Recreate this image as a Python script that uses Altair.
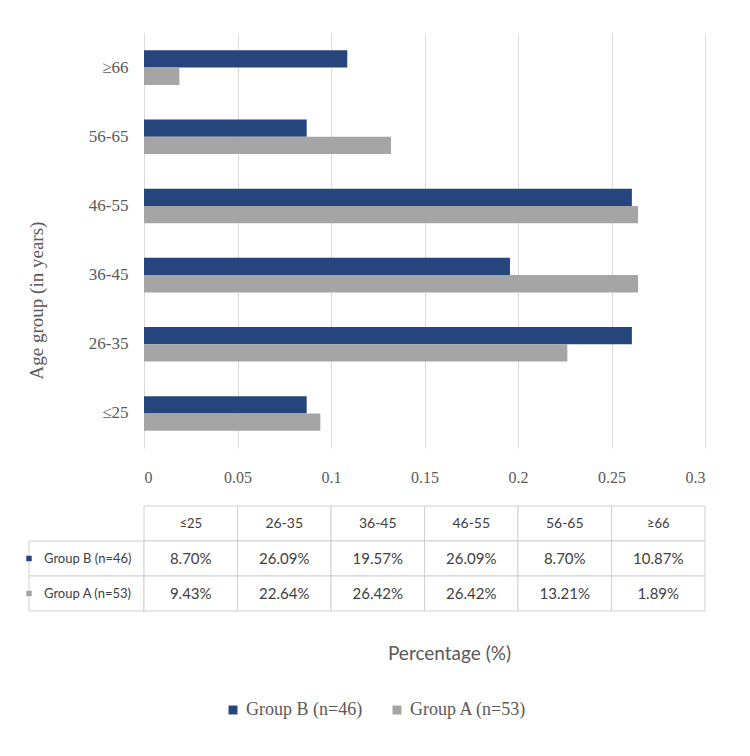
import altair as alt
import pandas as pd

ages = ["≤25", "26-35", "36-45", "46-55", "56-65", "≥66"]
groups = ["Group B (n=46)", "Group A (n=53)"]
group_b = [8.70, 26.09, 19.57, 26.09, 8.70, 10.87]
group_a = [9.43, 22.64, 26.42, 26.42, 13.21, 1.89]
x_ticks = [0, 0.05, 0.1, 0.15, 0.2, 0.25, 0.3]
colors = ["#26457c", "#a5a5a5"]

SERIF = "Liberation Serif"
SANS = "Lato"
GRAY_TXT = "#595959"
GRID = "#d9d9d9"

rows = []
for g, vals in zip(groups, [group_b, group_a]):
    for a, v in zip(ages, vals):
        rows.append({"age": a, "group": g, "pct": v, "share": v / 100})
df = pd.DataFrame(rows)

y_order = ages[::-1]
color_scale = alt.Scale(domain=groups, range=colors)
x_scale = alt.Scale(domain=[0, 0.3], nice=False)

bars = alt.Chart(df).mark_bar().encode(
    x=alt.X("share:Q", scale=x_scale,
            axis=alt.Axis(values=x_ticks, title=None, grid=True, gridColor=GRID,
                          domain=False, ticks=False, labelFont=SERIF, labelFontSize=16,
                          labelColor=GRAY_TXT, labelPadding=21, format="~g")),
    y=alt.Y("age:N", sort=y_order,
            scale=alt.Scale(paddingInner=0.5, paddingOuter=0.25),
            axis=alt.Axis(title="Age group (in years)", titleFont=SERIF, titleFontSize=19,
                          titleFontWeight="normal", titleColor=GRAY_TXT, titleX=-98, titleY=267,
                          labelFont=SERIF, labelFontSize=17, labelColor=GRAY_TXT,
                          labelPadding=16, ticks=False, domain=True, domainColor=GRID)),
    yOffset=alt.YOffset("group:N", sort=groups, scale=alt.Scale(paddingInner=0, paddingOuter=0)),
    color=alt.Color("group:N", sort=groups, scale=color_scale,
                    legend=alt.Legend(title=None, orient="none", direction="horizontal",
                                      legendX=80, legendY=668)),
).properties(width=561, height=415)

# table cells
label_left = -0.0615
cells = []
for k, a in enumerate(ages):
    cells.append(dict(x0=x_ticks[k], x1=x_ticks[k + 1], r0=0, r1=1, text=a,
                      kind="header", group=None, fs=13 if a[0] in "≤≥" else 14))
for r, (g, vals) in enumerate(zip(groups, [group_b, group_a]), start=1):
    cells.append(dict(x0=label_left, x1=0, r0=r, r1=r + 1, text=g, kind="label", group=g, fs=13))
    for k, v in enumerate(vals):
        cells.append(dict(x0=x_ticks[k], x1=x_ticks[k + 1], r0=r, r1=r + 1,
                          text=f"{v:.2f}%", kind="value", group=g, fs=15))
cdf = pd.DataFrame(cells)

tx = alt.X("x0:Q", scale=x_scale,
           axis=alt.Axis(labels=False, ticks=False, domain=False, grid=False,
                         title="Percentage (%)", titleFont=SANS, titleFontSize=19,
                         titleFontWeight="normal", titleColor=GRAY_TXT, titlePadding=33,
                         titleX=305))
ty_scale = alt.Scale(domain=[0, 3], reverse=True, nice=False, zero=False)

base = alt.Chart(cdf)
rects = base.mark_rect(fill="white", stroke="#d0d0d0", strokeWidth=1).encode(
    x=tx, x2="x1:Q",
    y=alt.Y("r0:Q", scale=ty_scale, axis=None), y2="r1:Q")
centers = base.transform_filter("datum.kind != 'label'").transform_calculate(
    xc="(datum.x0 + datum.x1) / 2", yc="(datum.r0 + datum.r1) / 2")
texts = centers.mark_text(font=SANS, color="#404040", baseline="middle", align="center").encode(
    x=alt.X("xc:Q", scale=x_scale), y=alt.Y("yc:Q", scale=ty_scale),
    text="text:N", size=alt.Size("fs:Q", scale=None, legend=None))
labs = base.transform_filter("datum.kind == 'label'").transform_calculate(
    yc="(datum.r0 + datum.r1) / 2")
lab_text = labs.mark_text(font=SANS, color="#404040", baseline="middle", align="left",
                          dx=15, fontSize=13).encode(
    x=alt.X("x0:Q", scale=x_scale), y=alt.Y("yc:Q", scale=ty_scale), text="text:N")
lab_sq = labs.mark_square(size=30, opacity=1, dx=8, dy=-5).encode(
    x=alt.X("x0:Q", scale=x_scale), y=alt.Y("yc:Q", scale=ty_scale),
    color=alt.Color("group:N", scale=color_scale, legend=None))

table = alt.layer(rects, texts, lab_text, lab_sq).properties(width=561, height=105)

chart = alt.vconcat(bars, table, spacing=20).properties(
    padding={"left": 18, "top": 25, "right": 25, "bottom": 20}
).configure_view(stroke=None).configure_legend(
    symbolType="square", symbolSize=80,
    labelFont=SERIF, labelFontSize=18, labelColor=GRAY_TXT, columnPadding=25,
    labelLimit=300
)

chart.save("out.html", embed_options={"renderer": "svg", "actions": False})
